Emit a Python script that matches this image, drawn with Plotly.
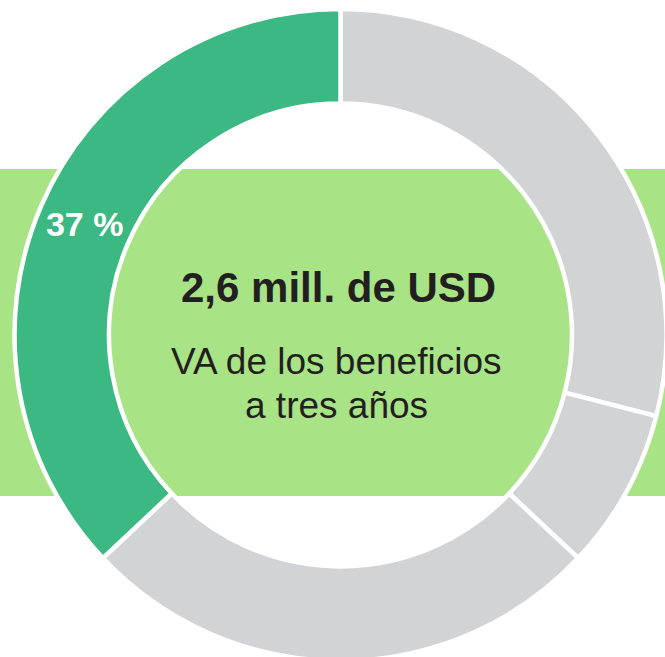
import plotly.graph_objects as go

# Data (shares in percent; order clockwise from 12 o'clock)
categories = ["Beneficio B", "Beneficio C", "Beneficio D", "Beneficio A"]
shares = [29, 8, 26, 37]
slice_text = ["", "", "", "37 %"]
slice_colors = ["#D2D3D5", "#D2D3D5", "#D2D3D5", "#3CB882"]

title_text = "2,6 mill. de USD"
subtitle_lines = ["VA de los beneficios", "a tres años"]

# figure is slightly larger than the 665x657 view so the ring is cropped at the right/bottom
FW, FH = 668, 668
FONT = "Arial, Liberation Sans, Helvetica, sans-serif"

def xp(x):
    return x / FW

def yp(y):
    return 1 - y / FH

CX, CY, R = 340.5, 335.0, 326.0

fig = go.Figure()
fig.add_trace(go.Pie(
    labels=categories,
    values=shares,
    text=slice_text,
    textinfo="text",
    textposition="inside",
    insidetextorientation="horizontal",
    textfont=dict(family=FONT, size=34, color="white", weight="bold"),
    sort=False,
    direction="clockwise",
    rotation=0,
    hole=0.71,
    marker=dict(colors=slice_colors, line=dict(color="white", width=4.5)),
    domain=dict(x=[xp(CX - R), xp(CX + R)], y=[yp(CY + R), yp(CY - R)]),
    showlegend=False,
    hoverinfo="label+percent",
))

# light green band behind the ring
fig.add_shape(type="rect", xref="paper", yref="paper",
              x0=0, x1=1, y0=yp(496), y1=yp(169),
              fillcolor="#A8E386", line=dict(width=0), layer="below")

fig.add_annotation(x=xp(338.5), y=yp(287.5), xref="paper", yref="paper",
                   text=title_text, showarrow=False, xanchor="center", yanchor="middle",
                   font=dict(family=FONT, size=42, color="#231F20", weight="bold"))
fig.add_annotation(x=xp(336), y=yp(361.8), xref="paper", yref="paper",
                   text=subtitle_lines[0], showarrow=False, xanchor="center", yanchor="middle",
                   font=dict(family=FONT, size=37, color="#231F20"))
fig.add_annotation(x=xp(336), y=yp(405.5), xref="paper", yref="paper",
                   text=subtitle_lines[1], showarrow=False, xanchor="center", yanchor="middle",
                   font=dict(family=FONT, size=37, color="#231F20"))

fig.update_layout(
    width=FW, height=FH,
    margin=dict(l=0, r=0, t=0, b=0),
    paper_bgcolor="white",
    plot_bgcolor="white",
)

fig.write_html(
    "out.html",
    config={"displayModeBar": False},
    post_script="document.body.style.margin='0';document.body.style.overflow='hidden';",
)
